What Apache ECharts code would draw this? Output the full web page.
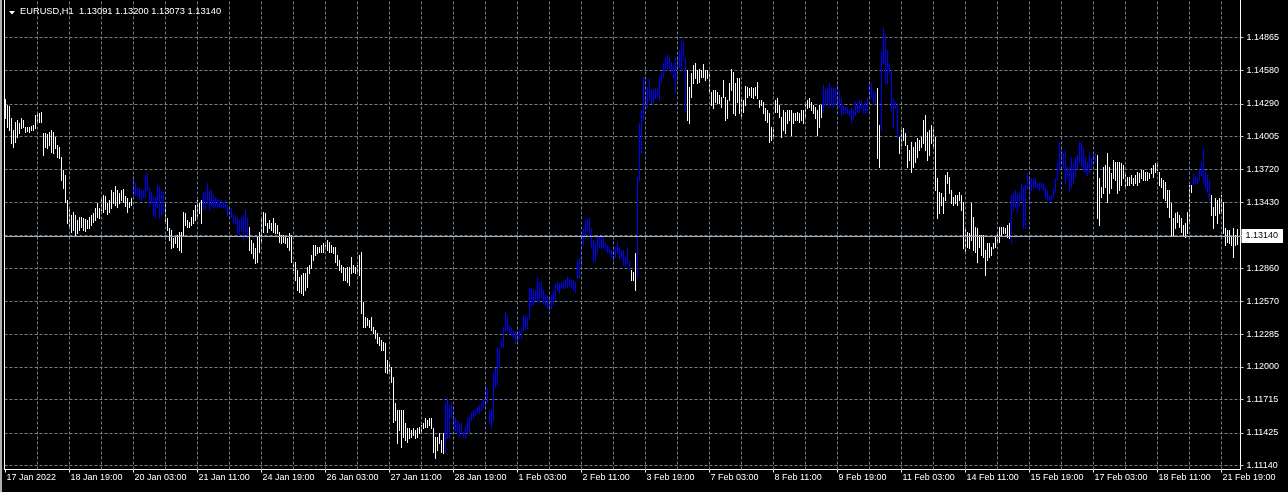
<!DOCTYPE html>
<html><head><meta charset="utf-8">
<script src="https://cdn.jsdelivr.net/npm/echarts@6/dist/echarts.min.js"></script>
<style>html,body{margin:0;padding:0;background:#000;}#c{width:1288px;height:492px;}</style>
</head><body><div id="c"></div>
<script>
// ---------- data ----------
const symbolName = 'EURUSD,H1';
const days = ['17 Jan','18 Jan','19 Jan','20 Jan','21 Jan','24 Jan','25 Jan','26 Jan','27 Jan','28 Jan',
  '31 Jan','1 Feb','2 Feb','3 Feb','4 Feb','7 Feb','8 Feb','9 Feb','10 Feb','11 Feb',
  '14 Feb','15 Feb','16 Feb','17 Feb','18 Feb','21 Feb','22 Feb'];
const firstHour = 11;      // first visible bar: 17 Jan 11:00
const lastDayHours = 5;    // 22 Feb 00:00 .. 04:00 (last slot empty)
const firstLabel = '17 Jan 2022';

const high = [
1.14331,1.14279,1.14270,1.14166,1.14062,1.14131,1.14149,1.14123,1.14166,1.14149,
1.14088,1.14092,1.14085,1.14096,1.14105,1.14192,1.14218,1.14210,1.14218,1.14036,
1.14036,1.14030,1.14044,1.14062,1.14044,1.14001,1.13931,1.13914,1.13827,1.13713,
1.13670,1.13452,1.13383,1.13322,1.13348,1.13322,1.13278,1.13304,1.13304,1.13296,
1.13290,1.13278,1.13304,1.13322,1.13339,1.13383,1.13426,1.13383,1.13478,1.13496,
1.13487,1.13426,1.13452,1.13539,1.13522,1.13574,1.13539,1.13513,1.13539,1.13548,
1.13487,1.13470,1.13435,1.13470,1.13653,1.13609,1.13566,1.13557,1.13539,1.13539,
1.13670,1.13687,1.13566,1.13522,1.13496,1.13478,1.13583,1.13566,1.13539,1.13522,
1.13426,1.13296,1.13209,1.13191,1.13122,1.13130,1.13148,
1.13174,1.13174,1.13348,1.13339,1.13278,1.13261,1.13304,1.13365,1.13409,1.13452,
1.13426,1.13452,1.13522,1.13513,1.13600,1.13539,1.13539,1.13496,1.13478,1.13470,
1.13452,1.13455,1.13435,1.13452,1.13409,1.13391,1.13383,1.13339,1.13322,1.13296,
1.13278,1.13296,1.13322,1.13365,1.13296,1.13217,1.13104,1.13078,1.13035,1.13130,
1.13174,1.13296,1.13348,1.13339,1.13252,1.13278,1.13252,1.13296,1.13252,1.13235,
1.13174,1.13148,1.13148,1.13130,1.13122,1.13165,1.13148,1.12913,1.12913,1.12843,
1.12782,1.12800,1.12817,1.12817,1.12869,1.12887,1.12974,1.13061,1.13061,1.13043,
1.13043,1.13061,1.13078,1.13061,1.13104,1.13087,1.13061,1.13043,1.13043,1.12974,
1.12930,1.12887,1.12869,1.12861,1.12869,1.12869,1.12956,1.12887,1.12869,1.12887,
1.12974,1.13000,1.12565,1.12434,1.12425,1.12408,1.12434,1.12347,1.12321,1.12295,
1.12260,1.12234,1.12216,1.12208,1.12060,1.12034,1.11999,1.11912,1.11686,1.11625,
1.11625,1.11625,1.11625,1.11512,1.11468,1.11468,1.11451,1.11468,1.11451,1.11468,
1.11477,1.11494,1.11512,1.11555,1.11538,1.11555,1.11555,1.11468,1.11390,1.11390,
1.11424,1.11363,1.11424,1.11686,1.11729,1.11668,1.11694,1.11625,1.11555,1.11538,
1.11512,1.11512,1.11433,1.11477,1.11555,1.11564,1.11599,1.11625,1.11625,1.11651,
1.11668,1.11686,1.11712,1.11825,1.11816,1.11625,1.11625,1.11947,1.11990,1.12173,
1.12164,1.12234,1.12347,1.12478,1.12451,1.12364,1.12347,1.12321,1.12304,1.12300,
1.12321,1.12347,1.12451,1.12451,1.12434,1.12686,1.12686,1.12669,1.12669,1.12782,
1.12739,1.12739,1.12669,1.12643,1.12626,1.12599,1.12626,1.12669,1.12730,1.12739,
1.12730,1.12730,1.12739,1.12756,1.12782,1.12774,1.12756,1.12756,1.12739,1.12930,
1.12948,1.13148,1.13209,1.13278,1.13296,1.13304,1.13209,1.13104,1.13078,1.13130,
1.13148,1.13130,1.13130,1.13078,1.13061,1.13043,1.13017,1.13017,1.13043,1.13087,
1.13043,1.13017,1.13017,1.12956,1.13035,1.12930,1.12843,1.12826,1.12991,1.13653,
1.14123,1.14236,1.14523,1.14497,1.14436,1.14514,1.14410,1.14410,1.14427,1.14427,
1.14523,1.14558,1.14645,1.14688,1.14723,1.14697,1.14654,1.14627,1.14688,1.14688,
1.14758,1.14845,1.14828,1.14688,1.14584,1.14436,1.14558,1.14627,1.14645,1.14584,
1.14593,1.14584,1.14636,1.14584,1.14584,1.14558,1.14392,1.14410,1.14410,1.14392,
1.14366,1.14349,1.14497,1.14349,1.14323,1.14471,1.14593,1.14566,1.14471,1.14514,
1.14514,1.14349,1.14323,1.14445,1.14436,1.14427,1.14436,1.14427,1.14436,1.14479,
1.14323,1.14323,1.14305,1.14253,1.14236,1.14210,1.14088,1.14088,1.14323,1.14340,
1.14279,1.14175,1.14236,1.14218,1.14236,1.14236,1.14236,1.14210,1.14210,1.14218,
1.14210,1.14236,1.14236,1.14305,1.14323,1.14340,1.14305,1.14279,1.14262,1.14236,
1.14279,1.14279,1.14453,1.14410,1.14427,1.14471,1.14436,1.14427,1.14427,1.14479,
1.14410,1.14340,1.14279,1.14262,1.14262,1.14236,1.14253,1.14236,1.14305,1.14297,
1.14323,1.14323,1.14279,1.14305,1.14340,1.14479,1.14471,1.14410,1.14392,1.14427,
1.14105,1.14741,1.14958,1.14889,1.14758,1.14645,1.14584,1.14340,1.14305,1.14279,
1.14001,1.14062,1.14079,1.14036,1.13931,1.13888,1.13957,1.13914,1.13957,1.13992,
1.13975,1.14001,1.14149,1.14192,1.14044,1.14062,1.14105,1.14079,1.14001,1.13644,
1.13522,1.13513,1.13478,1.13670,1.13696,1.13653,1.13539,1.13478,1.13496,1.13496,
1.13522,1.13496,1.13435,1.13217,1.13174,1.13165,1.13426,1.13304,1.13217,1.13209,
1.13148,1.13148,1.13148,1.13017,1.13078,1.13078,1.13043,1.13078,1.13130,1.13165,
1.13217,1.13217,1.13217,1.13209,1.13235,1.13252,1.13496,1.13513,1.13539,1.13496,
1.13513,1.13600,1.13566,1.13583,1.13687,1.13644,1.13644,1.13644,1.13644,1.13600,
1.13600,1.13605,1.13600,1.13566,1.13539,1.13496,1.13496,1.13557,1.13644,1.13783,
1.13957,1.13914,1.13861,1.13888,1.13740,1.13740,1.13827,1.13774,1.13818,1.13844,
1.13957,1.13957,1.13914,1.13827,1.13783,1.13861,1.13818,1.13844,1.13861,1.13844,
1.13644,1.13566,1.13740,1.13757,1.13861,1.13740,1.13687,1.13801,1.13783,1.13783,
1.13783,1.13774,1.13757,1.13696,1.13653,1.13653,1.13670,1.13644,1.13670,1.13696,
1.13687,1.13713,1.13713,1.13696,1.13696,1.13687,1.13731,1.13757,1.13774,1.13774,
1.13696,1.13644,1.13626,1.13609,1.13539,1.13539,1.13426,1.13296,1.13339,1.13348,
1.13322,1.13296,1.13235,1.13252,1.13348,1.13583,1.13583,1.13687,1.13653,1.13644,
1.13713,1.13783,1.13905,1.13713,1.13670,1.13626,1.13496,1.13391,1.13470,1.13452,
1.13470,1.13496,1.13435,1.13209,1.13191,1.13191,1.13130,1.13209,1.13148,1.13200];

const low = [
1.14166,1.14088,1.14062,1.13948,1.13914,1.13957,1.14001,1.14036,1.14079,1.14088,
1.14044,1.14050,1.14040,1.14062,1.14062,1.14079,1.14123,1.14131,1.14131,1.13844,
1.13914,1.13905,1.13931,1.13870,1.13861,1.13905,1.13827,1.13818,1.13626,1.13557,
1.13435,1.13252,1.13209,1.13174,1.13191,1.13148,1.13165,1.13191,1.13217,1.13191,
1.13185,1.13209,1.13209,1.13235,1.13261,1.13278,1.13304,1.13296,1.13365,1.13348,
1.13374,1.13330,1.13348,1.13383,1.13426,1.13409,1.13391,1.13426,1.13452,1.13435,
1.13400,1.13348,1.13391,1.13409,1.13487,1.13496,1.13496,1.13470,1.13452,1.13478,
1.13478,1.13539,1.13409,1.13426,1.13322,1.13304,1.13391,1.13296,1.13322,1.13339,
1.13252,1.13191,1.13104,1.13035,1.13043,1.13078,1.13043,
1.13017,1.13000,1.13148,1.13235,1.13217,1.13217,1.13235,1.13252,1.13278,1.13304,
1.13339,1.13252,1.13365,1.13383,1.13426,1.13365,1.13409,1.13391,1.13391,1.13383,
1.13391,1.13395,1.13391,1.13383,1.13322,1.13339,1.13304,1.13261,1.13252,1.13165,
1.13148,1.13191,1.13104,1.13174,1.13130,1.13017,1.12991,1.12948,1.12904,1.12913,
1.13000,1.13087,1.13174,1.13235,1.13174,1.13209,1.13191,1.13174,1.13165,1.13165,
1.13087,1.13078,1.13087,1.13078,1.13043,1.13017,1.12913,1.12843,1.12756,1.12669,
1.12652,1.12643,1.12626,1.12669,1.12695,1.12817,1.12861,1.12930,1.12974,1.12991,
1.13000,1.13000,1.13000,1.13035,1.13017,1.13000,1.13000,1.12991,1.12913,1.12887,
1.12843,1.12826,1.12756,1.12756,1.12739,1.12713,1.12817,1.12826,1.12817,1.12826,
1.12800,1.12469,1.12347,1.12347,1.12364,1.12347,1.12321,1.12295,1.12251,1.12208,
1.12190,1.12147,1.12147,1.11955,1.11947,1.11947,1.11868,1.11520,1.11538,1.11337,
1.11451,1.11303,1.11390,1.11363,1.11346,1.11381,1.11390,1.11407,1.11381,1.11390,
1.11424,1.11433,1.11468,1.11477,1.11477,1.11494,1.11468,1.11259,1.11207,1.11277,
1.11337,1.11259,1.11250,1.11259,1.11381,1.11381,1.11555,1.11468,1.11451,1.11424,
1.11407,1.11424,1.11390,1.11381,1.11433,1.11433,1.11538,1.11555,1.11581,1.11599,
1.11599,1.11625,1.11651,1.11668,1.11694,1.11520,1.11468,1.11538,1.11825,1.11842,
1.11990,1.12173,1.12173,1.12321,1.12321,1.12295,1.12277,1.12260,1.12208,1.12212,
1.12251,1.12251,1.12321,1.12338,1.12338,1.12425,1.12539,1.12539,1.12582,1.12565,
1.12565,1.12608,1.12556,1.12539,1.12512,1.12495,1.12512,1.12539,1.12582,1.12669,
1.12643,1.12686,1.12686,1.12686,1.12695,1.12713,1.12695,1.12669,1.12652,1.12774,
1.12782,1.12887,1.13061,1.13122,1.13191,1.13148,1.13043,1.12913,1.12930,1.12991,
1.13043,1.13035,1.13043,1.13017,1.13000,1.12991,1.12956,1.12930,1.12956,1.12991,
1.12948,1.12956,1.12887,1.12887,1.12904,1.12843,1.12756,1.12756,1.12669,1.12782,
1.13626,1.13861,1.14149,1.14262,1.14262,1.14323,1.14297,1.14305,1.14340,1.14349,
1.14323,1.14479,1.14523,1.14584,1.14584,1.14601,1.14566,1.14514,1.14392,1.14497,
1.14610,1.14566,1.14671,1.14218,1.14149,1.14123,1.14349,1.14471,1.14514,1.14471,
1.14479,1.14523,1.14523,1.14497,1.14514,1.14392,1.14279,1.14253,1.14305,1.14297,
1.14297,1.14262,1.14349,1.14149,1.14166,1.14323,1.14410,1.14210,1.14192,1.14305,
1.14210,1.14175,1.14218,1.14279,1.14349,1.14366,1.14349,1.14340,1.14366,1.14340,
1.14262,1.14279,1.14210,1.14149,1.14131,1.13957,1.13975,1.13992,1.14218,1.14218,
1.14175,1.14001,1.14062,1.14036,1.14123,1.14149,1.14018,1.14123,1.14149,1.14149,
1.14131,1.14149,1.14123,1.14175,1.14253,1.14262,1.14236,1.14210,1.14166,1.14018,
1.14088,1.14175,1.14218,1.14279,1.14297,1.14262,1.14279,1.14262,1.14279,1.14262,
1.14262,1.14192,1.14210,1.14218,1.14210,1.14192,1.14123,1.14166,1.14192,1.14218,
1.14218,1.14253,1.14218,1.14210,1.14236,1.14340,1.14349,1.14305,1.14297,1.13818,
1.13740,1.14062,1.14645,1.14479,1.14471,1.14558,1.14236,1.14079,1.14253,1.14001,
1.13861,1.13931,1.13975,1.13931,1.13740,1.13801,1.13696,1.13740,1.13783,1.13827,
1.13888,1.13914,1.13948,1.13888,1.13801,1.13844,1.13948,1.13914,1.13539,1.13296,
1.13339,1.13409,1.13339,1.13452,1.13600,1.13513,1.13426,1.13409,1.13426,1.13409,
1.13452,1.13365,1.13035,1.13000,1.13043,1.13035,1.13104,1.13017,1.13000,1.12913,
1.13043,1.12974,1.12956,1.12800,1.12930,1.12956,1.12974,1.13035,1.13043,1.13078,
1.13087,1.13148,1.13165,1.13165,1.13130,1.13122,1.13087,1.13365,1.13391,1.13348,
1.13409,1.13452,1.13209,1.13209,1.13557,1.13452,1.13539,1.13557,1.13566,1.13557,
1.13539,1.13560,1.13539,1.13478,1.13452,1.13435,1.13452,1.13470,1.13522,1.13626,
1.13713,1.13774,1.13740,1.13600,1.13644,1.13539,1.13566,1.13600,1.13653,1.13731,
1.13783,1.13757,1.13713,1.13696,1.13670,1.13687,1.13740,1.13757,1.13783,1.13296,
1.13235,1.13478,1.13513,1.13566,1.13435,1.13513,1.13557,1.13644,1.13626,1.13513,
1.13539,1.13583,1.13644,1.13566,1.13583,1.13583,1.13600,1.13583,1.13600,1.13583,
1.13609,1.13644,1.13626,1.13626,1.13626,1.13644,1.13687,1.13653,1.13696,1.13713,
1.13583,1.13566,1.13470,1.13452,1.13391,1.13304,1.13148,1.13148,1.13209,1.13261,
1.13217,1.13174,1.13148,1.13130,1.13165,1.13261,1.13522,1.13583,1.13600,1.13600,
1.13626,1.13670,1.13609,1.13557,1.13522,1.13452,1.13322,1.13209,1.13322,1.13252,
1.13339,1.13348,1.13165,1.13061,1.13087,1.13078,1.13061,1.12956,1.13061,1.13073];

const lastOpen = 1.13091;
const lastClose = 1.13140;
const bidPrice = 1.13140;

// bars drawn in blue (index ranges, inclusive)
const blueRanges = [[64,79],[99,121],[220,312],[316,340],[409,435],[438,446],[503,545],[594,602]];

// price scale tick labels (right axis)
const priceLabels = [1.11140,1.11425,1.11715,1.12000,1.12285,1.12570,1.12860,1.13430,1.13720,1.14005,1.14290,1.14580,1.14865];
const gridLevels  = [1.11140,1.11425,1.11715,1.12000,1.12285,1.12570,1.12860,1.13145,1.13430,1.13720,1.14005,1.14290,1.14580,1.14865];
const priceMin = 1.111069, priceMax = 1.151931;

// ---------- build ----------
const categories = [];
days.forEach((d, di) => {
  const h0 = di === 0 ? firstHour : 0;
  const h1 = di === days.length - 1 ? lastDayHours : 24;
  for (let h = h0; h < h1; h++) categories.push(d + ' ' + String(h).padStart(2, '0') + ':00');
});
const isBlue = i => blueRanges.some(r => i >= r[0] && i <= r[1]);
const barData = high.map((h, i) => [i, h, low[i], isBlue(i) ? 1 : 0]);
const vGrid = [];
for (let k = 16; k < categories.length; k += 16) vGrid.push(k);

const FONT = 'Liberation Sans';
const GRID_COLOR = '#6f7f90';

const chart = echarts.init(document.getElementById('c'), null, {renderer: 'canvas'});
chart.setOption({
  backgroundColor: '#000',
  animation: false,
  title: {
    text: symbolName + '  ' + [lastOpen, high[high.length - 1], low[low.length - 1], lastClose].map(v => v.toFixed(5)).join(' '),
    left: 20, top: 7, padding: 0,
    textStyle: {color: '#fff', fontSize: 9.3, fontWeight: 'normal', fontFamily: FONT}
  },
  graphic: [
    {type: 'polygon', shape: {points: [[9, 11], [15, 11], [12, 14.5]]}, style: {fill: '#fff'}, silent: true},
    {type: 'rect', shape: {x: 0, y: 0, width: 2, height: 492}, style: {fill: '#b0b0b0'}, silent: true}
  ],
  grid: {left: 4.5, right: 47.5, top: 0, bottom: 22.5, containLabel: false},
  xAxis: {
    type: 'category', data: categories, boundaryGap: true,
    axisLine: {show: true, lineStyle: {color: '#fff', width: 1}},
    axisTick: {show: true, alignWithLabel: true, interval: i => i % 32 === 0, length: 3, lineStyle: {color: '#fff'}},
    axisLabel: {
      interval: i => i % 32 === 0, align: 'left', color: '#fff', fontSize: 9, fontFamily: FONT, margin: 4,
      padding: [0, 0, 0, 1], formatter: (v, i) => i === 0 ? firstLabel : v
    },
    splitLine: {show: false}
  },
  yAxis: [{
    type: 'value', position: 'right', min: priceMin, max: priceMax, scale: true,
    axisLine: {show: true, lineStyle: {color: '#fff', width: 1}},
    axisTick: {show: true, customValues: gridLevels, length: 3, lineStyle: {color: '#c8c8c8'}},
    axisLabel: {customValues: priceLabels, color: '#fff', fontSize: 9, fontFamily: FONT, margin: 6, formatter: v => v.toFixed(5)},
    splitLine: {show: true, lineStyle: {color: GRID_COLOR, type: [3, 2], width: 1}}
  }, {
    type: 'value', position: 'left', min: priceMin, max: priceMax, scale: true,
    axisLine: {show: true, lineStyle: {color: '#fff', width: 1}},
    axisTick: {show: false}, axisLabel: {show: false}, splitLine: {show: false}
  }],
  series: [{
    type: 'line', data: [], z: 1, silent: true, yAxisIndex: 0,
    markLine: {
      silent: true, symbol: ['none', 'none'], animation: false, label: {show: false},
      lineStyle: {color: GRID_COLOR, type: [3, 2], width: 1},
      data: vGrid.map(k => ({xAxis: categories[k]}))
    }
  }, {
    type: 'custom', z: 2, silent: true, data: barData, yAxisIndex: 0,
    encode: {x: 0, y: [1, 2]},
    renderItem: (params, api) => {
      const i = api.value(0);
      const top = api.coord([i, api.value(1)]);
      const bot = api.coord([i, api.value(2)]);
      const x = Math.round(top[0] - 0.5);
      const y1 = Math.round(top[1]);
      const y2 = Math.round(bot[1]);
      return {type: 'rect', shape: {x: x, y: y1, width: 1, height: Math.max(1, y2 - y1 + 1)},
        style: {fill: api.value(3) ? '#0000ff' : '#ffffff'}};
    }
  }, {
    type: 'line', data: [], z: 3, silent: true, yAxisIndex: 0,
    markLine: {
      silent: true, symbol: ['none', 'none'], animation: false, precision: 6,
      data: [{
        yAxis: bidPrice,
        lineStyle: {color: '#a4adb8', type: 'solid', width: 1},
        label: {show: true, position: 'end', distance: 1, formatter: bidPrice.toFixed(5), color: '#000',
          backgroundColor: '#fff', padding: [3, 5, 2, 4], fontSize: 9, fontFamily: FONT}
      }]
    }
  }]
});
</script></body></html>
